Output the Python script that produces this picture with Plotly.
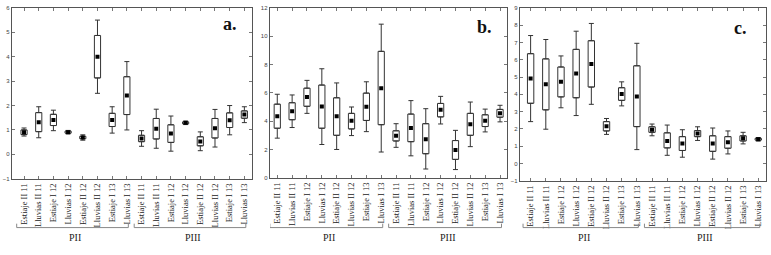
import plotly.graph_objects as go

W, H = 771, 255

categories = ["Estiaje II 11", "Lluvias II 11", "Estiaje I 12", "Lluvias I 12",
              "Estiaje II 12", "Lluvias II 12", "Estiaje I 13", "Lluvias I 13",
              "Estiaje II 11", "Lluvias II 11", "Estiaje I 12", "Lluvias I 12",
              "Estiaje II 12", "Lluvias II 12", "Estiaje I 13", "Lluvias I 13"]
groups = ["PII", "PIII"]
panel_labels = ["a.", "b.", "c."]

# Panel a
a_mean   = [0.91, 1.31, 1.41, 0.91, 0.69, 4.00, 1.41, 2.41, 0.65, 1.05, 0.85, 1.29, 0.53, 1.07, 1.40, 1.63]
a_box_lo = [0.81, 0.93, 1.18, 0.87, 0.64, 3.13, 1.14, 1.63, 0.52, 0.63, 0.49, 1.25, 0.35, 0.67, 1.10, 1.48]
a_box_hi = [1.00, 1.71, 1.64, 0.95, 0.74, 4.87, 1.68, 3.18, 0.78, 1.47, 1.21, 1.33, 0.72, 1.47, 1.70, 1.78]
a_wh_lo  = [0.75, 0.68, 0.97, 0.84, 0.58, 2.50, 0.87, 1.00, 0.33, 0.25, 0.13, 1.22, 0.15, 0.30, 0.80, 1.30]
a_wh_hi  = [1.08, 1.95, 1.81, 0.98, 0.80, 5.50, 1.95, 3.80, 0.97, 1.85, 1.57, 1.36, 0.92, 1.84, 2.00, 1.95]

# Panel b
b_mean   = [4.35, 4.70, 5.70, 5.03, 4.35, 4.02, 5.02, 6.33, 2.97, 3.52, 2.72, 4.80, 1.96, 3.78, 4.03, 4.55]
b_box_lo = [3.50, 4.10, 5.05, 3.50, 3.00, 3.45, 4.05, 3.75, 2.60, 2.55, 1.70, 4.30, 1.30, 3.00, 3.62, 4.28]
b_box_hi = [5.20, 5.30, 6.33, 6.55, 5.65, 4.55, 5.98, 8.93, 3.32, 4.50, 3.82, 5.25, 2.63, 4.55, 4.45, 4.83]
b_wh_lo  = [2.80, 3.55, 4.55, 2.35, 2.00, 2.98, 3.26, 1.82, 2.15, 1.55, 0.62, 3.80, 0.58, 2.20, 3.24, 3.95]
b_wh_hi  = [5.90, 5.85, 6.88, 7.70, 6.70, 5.00, 6.78, 10.85, 3.82, 5.45, 4.88, 5.75, 3.35, 5.35, 4.85, 5.12]

# Panel c
c_mean   = [4.92, 4.58, 4.72, 5.20, 5.76, 2.15, 4.02, 3.87, 1.95, 1.30, 1.15, 1.73, 1.15, 1.22, 1.46, 1.40]
c_box_lo = [3.48, 3.10, 3.85, 3.80, 4.42, 1.88, 3.65, 2.13, 1.80, 0.90, 0.75, 1.55, 0.70, 0.88, 1.30, 1.35]
c_box_hi = [6.35, 6.05, 5.58, 6.60, 7.10, 2.42, 4.38, 5.65, 2.12, 1.77, 1.55, 1.90, 1.60, 1.55, 1.60, 1.45]
c_wh_lo  = [2.42, 1.98, 3.22, 2.77, 3.42, 1.68, 3.33, 0.80, 1.60, 0.47, 0.36, 1.33, 0.25, 0.55, 1.13, 1.30]
c_wh_hi  = [7.40, 7.17, 6.22, 7.65, 8.10, 2.60, 4.72, 6.95, 2.28, 2.22, 1.95, 2.12, 2.05, 1.88, 1.80, 1.50]

panels = [
    dict(mean=a_mean, blo=a_box_lo, bhi=a_box_hi, wlo=a_wh_lo, whi=a_wh_hi,
         px=(12, 252), py=(5, 180), xr=[-0.82, 15.52], yr=[-1, 6], dt=1, lab=(230, 22)),
    dict(mean=b_mean, blo=b_box_lo, bhi=b_box_hi, wlo=b_wh_lo, whi=b_wh_hi,
         px=(270, 507), py=(5, 179), xr=[-0.49, 15.47], yr=[0, 12], dt=2, lab=(484, 25)),
    dict(mean=c_mean, blo=c_box_lo, bhi=c_box_hi, wlo=c_wh_lo, whi=c_wh_hi,
         px=(520, 766), py=(5, 182), xr=[-0.70, 15.51], yr=[-1, 9], dt=1, lab=(740, 26)),
]

pos = list(range(len(categories)))
LINE = "#333333"
fig = go.Figure()
layout = dict(width=W, height=H, margin=dict(l=0, r=0, t=0, b=0),
              paper_bgcolor="white", plot_bgcolor="white", showlegend=False,
              barmode="overlay")
shapes, annotations = [], []

for i, p in enumerate(panels):
    sfx = "" if i == 0 else str(i + 1)
    xa, ya = "x" + sfx, "y" + sfx
    heights = [h - l for h, l in zip(p["bhi"], p["blo"])]
    fig.add_trace(go.Bar(x=pos, y=heights, base=p["blo"], width=0.42,
                         marker=dict(color="white", line=dict(color=LINE, width=1)),
                         xaxis=xa, yaxis=ya, hoverinfo="skip"))
    up = [w - b for w, b in zip(p["whi"], p["bhi"])]
    dn = [b - w for w, b in zip(p["wlo"], p["blo"])]
    zeros = [0] * len(pos)
    fig.add_trace(go.Scatter(x=pos, y=p["bhi"], mode="markers",
                             marker=dict(size=1, color="rgba(0,0,0,0)"),
                             error_y=dict(type="data", symmetric=False, array=up, arrayminus=zeros,
                                          color=LINE, thickness=1, width=2.5),
                             xaxis=xa, yaxis=ya, hoverinfo="skip"))
    fig.add_trace(go.Scatter(x=pos, y=p["blo"], mode="markers",
                             marker=dict(size=1, color="rgba(0,0,0,0)"),
                             error_y=dict(type="data", symmetric=False, array=zeros, arrayminus=dn,
                                          color=LINE, thickness=1, width=2.5),
                             xaxis=xa, yaxis=ya, hoverinfo="skip"))
    fig.add_trace(go.Scatter(x=pos, y=p["mean"], mode="markers",
                             marker=dict(symbol="square", size=4, color="black"),
                             xaxis=xa, yaxis=ya, hoverinfo="skip"))

    layout["xaxis" + sfx] = dict(
        domain=[p["px"][0] / W, p["px"][1] / W], anchor=ya, range=p["xr"],
        tickmode="array", tickvals=pos, ticktext=categories, tickangle=-90,
        tickfont=dict(family="Liberation Serif", size=8.5, color="#222"),
        showline=True, linecolor="#555", linewidth=1.3, mirror="ticks",
        ticks="inside", ticklen=3, tickcolor="#777", showgrid=False, zeroline=False)
    layout["yaxis" + sfx] = dict(
        domain=[1 - p["py"][1] / H, 1 - p["py"][0] / H], anchor=xa, range=p["yr"],
        dtick=p["dt"], tick0=0,
        tickfont=dict(family="Liberation Sans", size=6, color="#444"),
        showline=True, linecolor="#555", linewidth=1.3, mirror="ticks",
        ticks="inside", ticklen=3, tickcolor="#777", showgrid=False, zeroline=False)

    # group brackets and labels
    for g, (first, last) in enumerate([(0, 7), (8, 15)]):
        x0, x1 = first - 0.5, last + 0.1
        yl, yh = 1 - 230 / H, 1 - 226 / H
        shapes.append(dict(type="path", xref=xa, yref="paper",
                           path=f"M {x0},{yh} L {x0},{yl} L {x1},{yl} L {x1},{yh}",
                           line=dict(color="#888", width=1)))
        annotations.append(dict(xref=xa, yref="paper", x=(first + last) / 2, y=1 - 240 / H,
                                text=groups[g], showarrow=False, yanchor="middle",
                                font=dict(family="Liberation Serif", size=10, color="#222")))
    annotations.append(dict(xref="paper", yref="paper", x=p["lab"][0] / W, y=1 - p["lab"][1] / H,
                            text=f"<b>{panel_labels[i]}</b>", showarrow=False,
                            xanchor="center", yanchor="middle",
                            font=dict(family="Liberation Serif", size=18, color="#111")))

layout["shapes"] = shapes
layout["annotations"] = annotations
fig.update_layout(**layout)
fig.write_html("out.html", config={"displayModeBar": False, "staticPlot": True},
               post_script="document.body.style.margin='0';document.body.style.overflow='hidden';")
